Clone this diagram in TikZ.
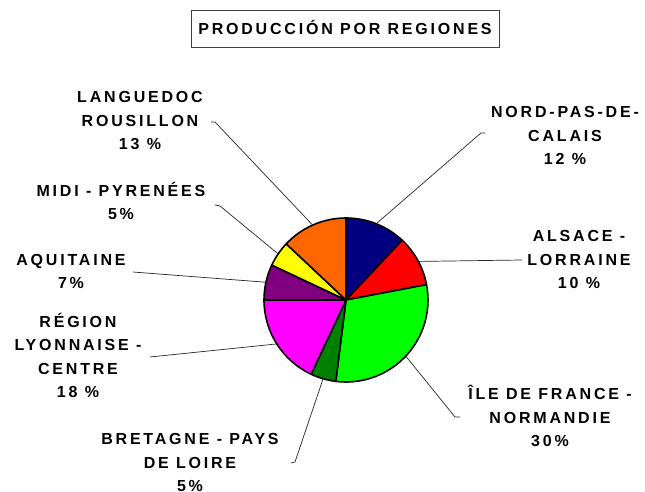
\documentclass[tikz,border=0pt]{standalone}
\usepackage{fontspec}
\setmainfont{Liberation Sans}[LetterSpace=17.5]
\usepackage{tikz}
\definecolor{navyslice}{RGB}{0,0,128}
\definecolor{redslice}{RGB}{255,0,0}
\definecolor{limeslice}{RGB}{0,255,0}
\definecolor{greenslice}{RGB}{0,128,0}
\definecolor{magentaslice}{RGB}{255,0,255}
\definecolor{purpleslice}{RGB}{128,0,128}
\definecolor{yellowslice}{RGB}{255,255,0}
\definecolor{orangeslice}{RGB}{255,102,0}
\tikzset{
  slice/.style={draw=black,line width=1.6,line join=round},
  leader/.style={draw=black!85,line width=0.7},
  lbl/.style={font=\fontsize{16}{23.6}\selectfont\bfseries,align=center,inner sep=0pt,anchor=base}
}

\begin{document}
\begin{tikzpicture}[x=1pt,y=1pt]

\useasboundingbox (0,0) rectangle (645,492) ;

\node [draw=black!75,line width=0.8,minimum width=308,minimum height=36.6,inner sep=0pt,
  font=\fontsize{16}{19}\selectfont\bfseries,text height=11.5,text depth=0] (title) at (345,463) {PRODUCCIÓN POR REGIONES} ;

\coordinate (c) at (346,192) ;

\filldraw [slice,fill=navyslice] (c) -- ++(90:82) arc [start angle=90,end angle=46.8,radius=82] -- cycle ;
\filldraw [slice,fill=redslice] (c) -- ++(46.8:82) arc [start angle=46.8,end angle=10.8,radius=82] -- cycle ;
\filldraw [slice,fill=limeslice] (c) -- ++(10.8:82) arc [start angle=10.8,end angle=-97.2,radius=82] -- cycle ;
\filldraw [slice,fill=greenslice] (c) -- ++(-97.2:82) arc [start angle=-97.2,end angle=-115.2,radius=82] -- cycle ;
\filldraw [slice,fill=magentaslice] (c) -- ++(-115.2:82) arc [start angle=-115.2,end angle=-180,radius=82] -- cycle ;
\filldraw [slice,fill=purpleslice] (c) -- ++(180:82) arc [start angle=180,end angle=154.8,radius=82] -- cycle ;
\filldraw [slice,fill=yellowslice] (c) -- ++(154.8:82) arc [start angle=154.8,end angle=136.8,radius=82] -- cycle ;
\filldraw [slice,fill=orangeslice] (c) -- ++(136.8:82) arc [start angle=136.8,end angle=90,radius=82] -- cycle ;

\node [lbl] (nord) at (565,327) {NORD-PAS-DE-\\CALAIS\\12 \%} ;
\node [lbl] (alsace) at (579,203) {ALSACE -\\LORRAINE\\10 \%} ;
\node [lbl] (ile) at (550,45) {ÎLE DE FRANCE -\\NORMANDIE\\30\%} ;
\node [lbl] (bretagne) at (190,0) {BRETAGNE - PAYS\\DE LOIRE\\5\%} ;
\node [lbl] (lyon) at (78,94) {RÉGION\\LYONNAISE -\\CENTRE\\18 \%} ;
\node [lbl] (aquitaine) at (71,203) {AQUITAINE\\7\%} ;
\node [lbl] (midi) at (121,272) {MIDI - PYRENÉES\\5\%} ;
\node [lbl] (languedoc) at (140,342) {LANGUEDOC\\ROUSILLON\\13 \%} ;

\path (c) ++(68.4:82) coordinate (nord-pin) ;
\path (c) ++(28.8:80) coordinate (alsace-pin) ;
\path (c) ++(-43.2:82) coordinate (ile-pin) ;
\path (c) ++(-106.2:82) coordinate (bretagne-pin) ;
\path (c) ++(-147.6:82) coordinate (lyon-pin) ;
\path (c) ++(167.4:81) coordinate (aquitaine-pin) ;
\path (c) ++(145.8:82) coordinate (midi-pin) ;
\path (c) ++(114:82) coordinate (languedoc-pin) ;

\coordinate (nord-end) at (481,359) ;
\coordinate (alsace-end) at (522,232) ;
\coordinate (ile-end) at (455,75) ;
\coordinate (bretagne-end) at (295,30) ;
\coordinate (lyon-end) at (150,135) ;
\coordinate (aquitaine-end) at (133,220) ;
\coordinate (midi-end) at (220,286) ;
\coordinate (languedoc-end) at (215,370) ;

\draw [leader] (nord-pin) -- (nord-end) -- ++(4,0) ;
\draw [leader] (alsace-pin) -- (alsace-end) ;
\draw [leader] (ile-pin) -- (ile-end) -- ++(5,0) ;
\draw [leader] (bretagne-pin) -- (bretagne-end) -- ++(-4,-1) ;
\draw [leader] (lyon-pin) -- (lyon-end) ;
\draw [leader] (aquitaine-pin) -- (aquitaine-end) ;
\draw [leader] (midi-pin) -- (midi-end) -- ++(-5,1) ;
\draw [leader] (languedoc-pin) -- (languedoc-end) -- ++(-4,0) ;

\end{tikzpicture}
\end{document}
